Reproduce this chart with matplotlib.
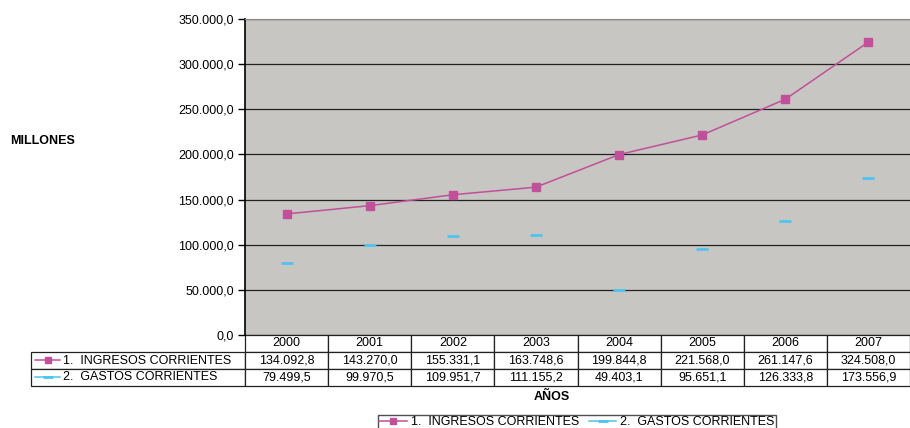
import matplotlib
matplotlib.use("Agg")
import matplotlib.pyplot as plt
from matplotlib.lines import Line2D
from matplotlib.ticker import FuncFormatter

plt.rcParams['font.family'] = ['Liberation Sans', 'DejaVu Sans']

years = ['2000', '2001', '2002', '2003', '2004', '2005', '2006', '2007']
ingresos = [134092.8, 143270.0, 155331.1, 163748.6, 199844.8, 221568.0, 261147.6, 324508.0]
gastos = [79499.5, 99970.5, 109951.7, 111155.2, 49403.1, 95651.1, 126333.8, 173556.9]
series_names = ['1.  INGRESOS CORRIENTES', '2.  GASTOS CORRIENTES']

col_ing = '#C0509A'
col_gas = '#4FC3EE'
fs = 9


def es_num(v, pos=None):
    # spanish style: 134.092,8
    s = f'{v:,.1f}'
    return s.replace(',', 'X').replace('.', ',').replace('X', '.')


W, H = 910, 428
fig = plt.figure(figsize=(W / 100, H / 100), dpi=100)

# plot area in pixels
x0, x1, ytop, ybot = 245, 910, 19, 335
ax = fig.add_axes([x0 / W, (H - ybot) / H, (x1 - x0) / W, (ybot - ytop) / H])
ax.set_facecolor('#C8C6C2')

xs = range(len(years))
ax.plot(xs, ingresos, color=col_ing, lw=1.1, marker='s', ms=6,
        markeredgecolor=col_ing, zorder=3)
ax.plot(xs, gastos, linestyle='none', marker='_', ms=9, mew=2,
        color=col_gas, zorder=3)

ax.set_xlim(-0.5, len(years) - 0.5)
ax.set_ylim(0, 350000)
ax.set_yticks(range(0, 350001, 50000))
ax.yaxis.set_major_formatter(FuncFormatter(es_num))
ax.tick_params(axis='y', labelsize=fs, length=5, width=1, pad=3)
ax.set_xticks([])
ax.grid(axis='y', color='#222222', lw=0.9)
ax.set_axisbelow(True)
for sp in ['right', 'bottom']:
    ax.spines[sp].set_visible(False)
ax.spines['top'].set_color('#888888')
ax.spines['left'].set_linewidth(1.2)

# data table under the chart
lab_left = 31
cells = [[series_names[0]] + [es_num(v) for v in ingresos],
         [series_names[1]] + [es_num(v) for v in gastos]]
col_w = [x0 - lab_left] + [(x1 - x0) / len(years)] * len(years)
tab_h = 386 - ybot
tbl = ax.table(cellText=cells, colLabels=[''] + years,
               colWidths=[c / (x1 - x0) for c in col_w],
               bbox=[(lab_left - x0) / (x1 - x0), -tab_h / (ybot - ytop),
                     (x1 - lab_left) / (x1 - x0), tab_h / (ybot - ytop)],
               cellLoc='center')
tbl.auto_set_font_size(False)
tbl.set_fontsize(fs)
for (r, c), cell in tbl.get_celld().items():
    cell.set_linewidth(0.9)
    cell.set_edgecolor('#222222')
    cell.set_facecolor('white')
    if r == 0 and c == 0:
        cell.visible_edges = ''
        cell.set_facecolor('none')
    if c == 0 and r > 0:
        cell.get_text().set_ha('left')
        cell.PAD = 0.15


# legend keys in the table row labels
def fx(px):
    return px / W


def fy(py):
    return (H - py) / H


fig.add_artist(Line2D([fx(35), fx(60)], [fy(360), fy(360)], color=col_ing, lw=1.1))
fig.add_artist(Line2D([fx(47.5)], [fy(360)], color=col_ing, marker='s', ms=5, lw=0))
fig.add_artist(Line2D([fx(35), fx(60)], [fy(377), fy(377)], color=col_gas, lw=1.1))
fig.add_artist(Line2D([fx(47.5)], [fy(377)], color=col_gas, marker='_', ms=7, mew=2, lw=0))

fig.text(10 / W, fy(141), 'MILLONES', fontsize=fs, fontweight='bold', va='center')
fig.text(fx(552), fy(397), 'AÑOS', fontsize=fs, fontweight='bold', ha='center', va='center')

handles = [Line2D([], [], color=col_ing, lw=1.1, marker='s', ms=5),
           Line2D([], [], color=col_gas, lw=1.1, marker='_', ms=7, mew=2)]
fig.legend(handles, series_names, loc='upper center', bbox_to_anchor=(fx(577), fy(415)),
           ncol=2, fontsize=fs, frameon=True, fancybox=False, edgecolor='#222222',
           borderpad=0.1, handlelength=2.2, handletextpad=0.3, columnspacing=0.8,
           borderaxespad=0)

fig.savefig('out.png', dpi=100)
